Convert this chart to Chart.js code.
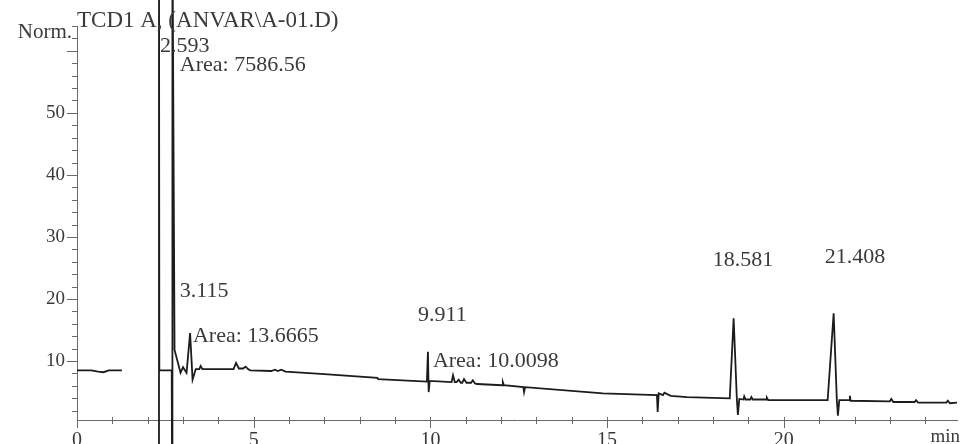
<!DOCTYPE html>
<html>
<head>
<meta charset="utf-8">
<script src="https://cdn.jsdelivr.net/npm/chart.js@4.4.0/dist/chart.umd.min.js"></script>
<style>
  html, body { margin: 0; padding: 0; background: #fff; }
  #wrap { width: 963px; height: 444px; }
</style>
</head>
<body>
<div id="wrap"><canvas id="chart"></canvas></div>
<script>
// TCD1 A signal (time in min, response in Norm.)
const title = 'TCD1 A, (ANVAR\\A-01.D)';
const times = [
  0.00, 0.40, 0.60, 0.75, 0.90, 1.27, 1.80,
  2.32, 2.32, 2.33, 2.68, 2.69, 2.70, 2.76, 2.93, 3.00, 3.10, 3.20, 3.27, 3.36,
  3.46, 3.50, 3.55, 4.43, 4.50, 4.58, 4.70, 4.77, 4.84, 4.90, 5.50, 5.60, 5.68,
  5.78, 5.90, 7.00, 8.50, 8.52, 9.90, 9.93, 9.95, 9.98, 10.60, 10.64, 10.69,
  10.74, 10.80, 10.86, 10.90, 10.95, 11.02, 11.15, 11.20, 11.26, 11.32, 12.03,
  12.05, 12.08, 12.63, 12.65, 12.68, 14.88, 16.41, 16.43, 16.46, 16.58, 16.62,
  16.80, 17.26, 18.47, 18.58, 18.67, 18.70, 18.74, 18.86, 18.88, 18.92, 19.05,
  19.08, 19.12, 19.50, 19.52, 19.56, 21.24, 21.41, 21.50, 21.53, 21.57, 21.85,
  21.87, 21.89, 23.00, 23.04, 23.10, 23.70, 23.74, 23.80, 24.60, 24.64, 24.70,
  24.90
];
const signal = [
  8.5, 8.5, 8.3, 8.2, 8.5, 8.5, null,
  -10, 80, 8.5, 8.5, -10, 80, 11.8, 8.1, 9.0, 8.1, 14.5, 7.0, 8.7,
  8.7, 9.2, 8.7, 8.7, 9.7, 8.8, 8.8, 9.1, 8.7, 8.5, 8.4, 8.6, 8.4,
  8.6, 8.3, 7.9, 7.3, 7.1, 6.7, 11.5, 5.0, 6.8, 6.6, 7.7, 6.6,
  6.6, 7.0, 6.5, 6.5, 7.1, 6.5, 6.5, 6.9, 6.4, 6.3, 6.1,
  6.6, 6.1, 5.8, 5.0, 5.8, 4.8, 4.5, 1.8, 4.8, 4.5, 4.9,
  4.4, 4.2, 4.0, 16.9, 4.0, 1.3, 3.9, 3.8, 4.3, 3.8, 3.8,
  4.2, 3.8, 3.8, 4.1, 3.7, 3.7, 17.7, 3.7, 1.2, 3.7, 3.7,
  4.4, 3.6, 3.5, 3.9, 3.4, 3.4, 3.7, 3.3, 3.3, 3.6, 3.2,
  3.3
];
const xTicks = [0, 5, 10, 15, 20];
const yTicks = [10, 20, 30, 40, 50];
const peakTexts = ['2.593', 'Area: 7586.56', '3.115', 'Area: 13.6665', '9.911', 'Area: 10.0098', '18.581', '21.408'];
const peakTimes = [2.35, 2.91, 2.91, 3.28, 9.65, 10.07, 17.99, 21.16];
const peakValues = [60.8, 57.6, 21.3, 14.0, 17.4, 10.0, 26.3, 26.8];

const serif = 'Liberation Serif';
const textColor = '#3a3a3a';
const axisColor = '#6a6a6a';

// extra tick marks and labels around the axes
const decor = {
  id: 'decor',
  afterDraw(chart) {
    const ctx = chart.ctx;
    const x = chart.scales.x, y = chart.scales.y;
    const area = chart.chartArea;
    ctx.save();
    ctx.strokeStyle = axisColor;
    ctx.lineWidth = 1;
    ctx.beginPath();
    for (let v = 2; v <= 64; v += 2) {
      const py = Math.round(y.getPixelForValue(v)) + 0.5;
      const len = v % 10 === 0 ? 10 : 5;
      ctx.moveTo(area.left - len, py);
      ctx.lineTo(area.left, py);
    }
    for (let v = 0; v <= 24; v += 1) {
      const px = Math.round(x.getPixelForValue(v)) + 0.5;
      const len = v % 5 === 0 ? 8 : 4;
      ctx.moveTo(px, area.bottom - 3);
      ctx.lineTo(px, area.bottom + len);
    }
    ctx.stroke();

    ctx.fillStyle = textColor;
    ctx.textBaseline = 'middle';
    ctx.font = '21px "' + serif + '"';
    ctx.textAlign = 'right';
    ctx.fillText('Norm.', area.left - 5, y.getPixelForValue(63.0));
    ctx.font = '19px "' + serif + '"';
    ctx.fillText('min', area.right + 3, area.bottom + 17);

    ctx.font = '23px "' + serif + '"';
    ctx.textAlign = 'left';
    ctx.fillText(title, area.left, 21);
    ctx.font = '22px "' + serif + '"';
    peakTexts.forEach((t, i) => {
      ctx.fillText(t, x.getPixelForValue(peakTimes[i]), y.getPixelForValue(peakValues[i]));
    });
    ctx.restore();
  }
};

new Chart(document.getElementById('chart'), {
  type: 'line',
  data: {
    datasets: [{
      data: times.map((t, i) => ({ x: t, y: signal[i] })),
      borderColor: '#1c1c1c',
      borderWidth: 1.8,
      pointRadius: 0,
      tension: 0,
      spanGaps: false,
      clip: false
    }]
  },
  options: {
    responsive: true,
    maintainAspectRatio: false,
    animation: false,
    layout: { padding: { top: 26, right: 6, left: 0, bottom: 0 } },
    plugins: { legend: { display: false }, tooltip: { enabled: false } },
    scales: {
      x: {
        type: 'linear',
        min: 0,
        max: 24.9,
        afterBuildTicks: s => { s.ticks = xTicks.map(v => ({ value: v })); },
        afterFit: s => { s.height = 24; },
        grid: { display: false, drawTicks: false },
        border: { display: true, color: axisColor, width: 1 },
        ticks: { color: textColor, padding: 9, maxRotation: 0, autoSkip: false,
                 font: { family: serif, size: 20 } }
      },
      y: {
        min: 0.5,
        max: 64,
        afterBuildTicks: s => { s.ticks = yTicks.map(v => ({ value: v })); },
        afterFit: s => { s.width = 77; },
        grid: { display: false, drawTicks: false },
        border: { display: true, color: axisColor, width: 1 },
        ticks: { color: textColor, padding: 12, autoSkip: false,
                 font: { family: serif, size: 19 } }
      }
    }
  },
  plugins: [decor]
});
</script>
</body>
</html>
